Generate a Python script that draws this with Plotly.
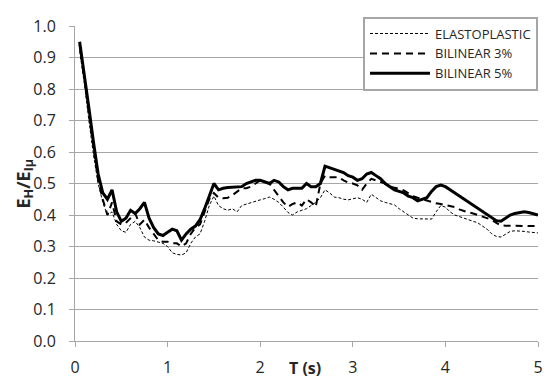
import plotly.graph_objects as go

T = [0.05, 0.10, 0.15, 0.20, 0.25, 0.30, 0.35, 0.40, 0.45, 0.50,
     0.55, 0.60, 0.65, 0.70, 0.75, 0.80, 0.85, 0.90, 0.95, 1.00,
     1.05, 1.10, 1.15, 1.20, 1.25, 1.30, 1.35, 1.40, 1.45, 1.50,
     1.55, 1.60, 1.65, 1.70, 1.75, 1.80, 1.85, 1.90, 1.95, 2.00,
     2.05, 2.10, 2.15, 2.20, 2.25, 2.30, 2.35, 2.40, 2.45, 2.50,
     2.55, 2.60, 2.65, 2.70, 2.75, 2.80, 2.85, 2.90, 2.95, 3.00,
     3.05, 3.10, 3.15, 3.20, 3.25, 3.30, 3.35, 3.40, 3.45, 3.50,
     3.55, 3.60, 3.65, 3.70, 3.75, 3.80, 3.85, 3.90, 3.95, 4.00,
     4.05, 4.10, 4.15, 4.20, 4.25, 4.30, 4.35, 4.40, 4.45, 4.50,
     4.55, 4.60, 4.65, 4.70, 4.75, 4.80, 4.85, 4.90, 4.95, 5.00]

elastoplastic = [0.92, 0.82, 0.70, 0.59, 0.50, 0.44, 0.40, 0.41, 0.37, 0.35,
                 0.345, 0.37, 0.38, 0.36, 0.33, 0.32, 0.318, 0.315, 0.31, 0.30,
                 0.28, 0.275, 0.273, 0.28, 0.31, 0.33, 0.34, 0.38, 0.43, 0.46,
                 0.43, 0.42, 0.415, 0.42, 0.41, 0.43, 0.435, 0.44, 0.445, 0.448,
                 0.452, 0.457, 0.45, 0.44, 0.425, 0.408, 0.40, 0.41, 0.415, 0.42,
                 0.43, 0.44, 0.455, 0.48, 0.47, 0.457, 0.455, 0.45, 0.448, 0.452,
                 0.455, 0.45, 0.44, 0.466, 0.455, 0.445, 0.44, 0.435, 0.432, 0.42,
                 0.41, 0.40, 0.39, 0.388, 0.387, 0.387, 0.387, 0.41, 0.43, 0.425,
                 0.41, 0.40, 0.396, 0.39, 0.385, 0.38, 0.375, 0.365, 0.355, 0.34,
                 0.332, 0.33, 0.34, 0.348, 0.35, 0.35, 0.348, 0.346, 0.345, 0.343]

bilinear3 = [0.94, 0.84, 0.72, 0.61, 0.51, 0.45, 0.40, 0.44, 0.38, 0.37,
             0.375, 0.39, 0.405, 0.37, 0.385, 0.36, 0.34, 0.32, 0.315, 0.315,
             0.31, 0.31, 0.30, 0.31, 0.34, 0.36, 0.37, 0.41, 0.45, 0.47,
             0.455, 0.453, 0.455, 0.463, 0.475, 0.485, 0.485, 0.49, 0.50, 0.51,
             0.505, 0.50, 0.48, 0.46, 0.44, 0.426, 0.435, 0.44, 0.43, 0.45,
             0.44, 0.426, 0.50, 0.525, 0.52, 0.52, 0.52, 0.51, 0.503, 0.50,
             0.494, 0.48, 0.50, 0.515, 0.51, 0.505, 0.50, 0.49, 0.487, 0.483,
             0.478, 0.47, 0.46, 0.455, 0.45, 0.445, 0.44, 0.437, 0.435, 0.432,
             0.428, 0.425, 0.418, 0.412, 0.408, 0.405, 0.40, 0.395, 0.39, 0.385,
             0.375, 0.367, 0.366, 0.366, 0.366, 0.366, 0.366, 0.366, 0.365, 0.365]

bilinear5 = [0.95, 0.85, 0.74, 0.63, 0.53, 0.47, 0.45, 0.48, 0.41, 0.38,
             0.39, 0.415, 0.405, 0.42, 0.44, 0.39, 0.36, 0.34, 0.335, 0.345,
             0.355, 0.35, 0.32, 0.34, 0.355, 0.365, 0.385, 0.42, 0.46, 0.50,
             0.48, 0.485, 0.487, 0.488, 0.49, 0.49, 0.50, 0.505, 0.51, 0.51,
             0.505, 0.50, 0.51, 0.505, 0.49, 0.48, 0.485, 0.485, 0.485, 0.50,
             0.49, 0.49, 0.50, 0.555, 0.55, 0.545, 0.54, 0.535, 0.525, 0.52,
             0.51, 0.515, 0.53, 0.535, 0.525, 0.515, 0.50, 0.49, 0.48, 0.475,
             0.47, 0.46, 0.455, 0.445, 0.45, 0.455, 0.475, 0.49, 0.495, 0.49,
             0.48, 0.47, 0.46, 0.45, 0.44, 0.43, 0.42, 0.41, 0.40, 0.39,
             0.382, 0.38, 0.39, 0.40, 0.405, 0.408, 0.41, 0.408, 0.405, 0.40]

series_names = ["ELASTOPLASTIC", "BILINEAR 3%", "BILINEAR 5%"]
y_ticks = [0.0, 0.1, 0.2, 0.3, 0.4, 0.5, 0.6, 0.7, 0.8, 0.9, 1.0]
x_ticks = [0, 1, 2, 3, 4, 5]

FONT = "Open Sans"
TXT = "#262626"
GRID = "#a6a6a6"

fig = go.Figure()
fig.add_trace(go.Scatter(x=T, y=elastoplastic, mode="lines", name=series_names[0],
                         line=dict(color="black", width=1, dash="3px,2px")))
fig.add_trace(go.Scatter(x=T, y=bilinear3, mode="lines", name=series_names[1],
                         line=dict(color="black", width=2, dash="7px,5px")))
fig.add_trace(go.Scatter(x=T, y=bilinear5, mode="lines", name=series_names[2],
                         line=dict(color="black", width=3)))

# page body has an 8px margin, so the figure is sized to fit the window
fig.update_layout(
    width=542, height=378,
    margin=dict(l=67, r=11, t=7, b=45),
    paper_bgcolor="white", plot_bgcolor="white",
    font=dict(family=FONT, color=TXT),
    showlegend=True,
    legend=dict(x=1, y=1.03, xanchor="right", yanchor="top",
                bgcolor="white", bordercolor=GRID, borderwidth=2,
                font=dict(family=FONT, size=13, color=TXT),
                tracegroupgap=0, itemwidth=60),
    xaxis=dict(range=[0, 5], tickvals=x_ticks, ticktext=[str(v) for v in x_ticks],
               showgrid=False, zeroline=False, showline=True, linecolor=GRID,
               linewidth=1, ticks="outside", ticklen=5, tickcolor=GRID,
               ticklabelstandoff=7, ticklabeloverflow="allow",
               tickfont=dict(family=FONT, size=16, color=TXT)),
    yaxis=dict(range=[0, 1.0], tickvals=y_ticks, ticktext=[f"{v:.1f}" for v in y_ticks],
               showgrid=True, gridcolor=GRID, gridwidth=1, zeroline=False,
               showline=True, linecolor=GRID, linewidth=1,
               ticks="outside", ticklen=5, tickcolor=GRID,
               ticklabelstandoff=10, ticklabeloverflow="allow",
               tickfont=dict(family=FONT, size=16, color=TXT)),
)

fig.add_annotation(text="<b>T (s)</b>", x=2.48, xref="x", y=-0.085, yref="paper",
                   yanchor="middle", showarrow=False,
                   font=dict(family=FONT, size=16, color=TXT))
fig.add_annotation(text="<b>E<sub>H</sub>/E<sub>Iμ</sub></b>", x=-0.11, xref="paper",
                   xanchor="center", y=0.5, yref="paper", textangle=-90, showarrow=False,
                   font=dict(family=FONT, size=18, color=TXT))

fig.write_html("out.html")
